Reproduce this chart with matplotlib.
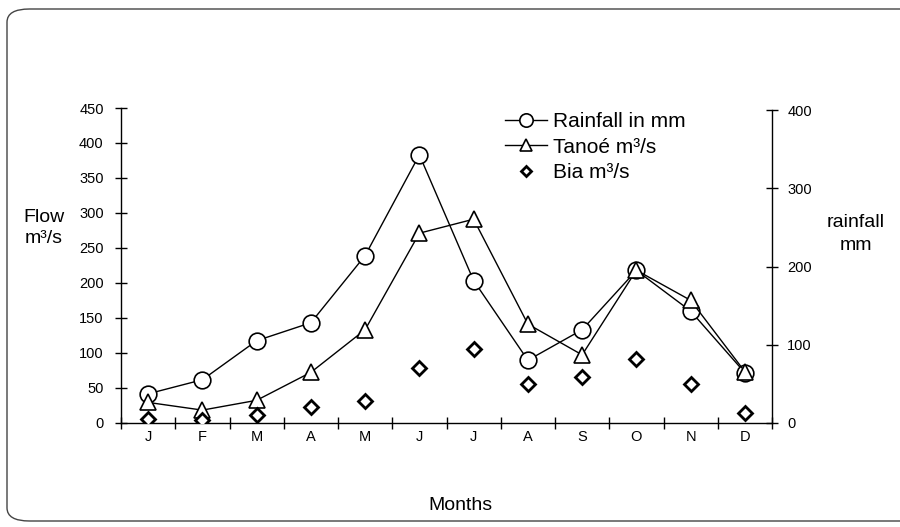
import matplotlib
matplotlib.use("Agg")
import matplotlib.pyplot as plt
from matplotlib.patches import FancyBboxPatch
import numpy as np

plt.rcParams['font.family'] = ['Liberation Sans', 'DejaVu Sans']

months = ['J', 'F', 'M', 'A', 'M', 'J', 'J', 'A', 'S', 'O', 'N', 'D']
rainfall = [37, 55, 105, 128, 214, 343, 182, 80, 119, 195, 143, 64]   # mm (right axis)
tanoe = [29, 18, 32, 72, 133, 271, 291, 141, 97, 218, 175, 73]        # m3/s (left axis)
bia = [6, 4, 11, 22, 31, 78, 105, 55, 66, 91, 56, 14]                 # m3/s (left axis)
flow_ticks = [0, 50, 100, 150, 200, 250, 300, 350, 400, 450]
rain_ticks = [0, 100, 200, 300, 400]

W, H = 900, 527
fig = plt.figure(figsize=(W / 100, H / 100), dpi=100)
fig.patch.set_facecolor('white')

# frame around the chart (right side runs off the page)
frame = FancyBboxPatch((7 / W, 6 / H), 1000 / W, (H - 9 - 6) / H,
                       boxstyle="round,pad=0,rounding_size=0.025",
                       transform=fig.transFigure, fill=False,
                       edgecolor='#444444', linewidth=1.0, clip_on=False)
fig.patches.append(frame)

ax = fig.add_axes([121 / W, 1 - 422.7 / H, (772 - 121) / W, (422.7 - 108) / H])
ax2 = ax.twinx()
ax2.set_zorder(ax.get_zorder() - 1)
ax.patch.set_visible(False)

x = np.arange(len(months))

l1, = ax2.plot(x, rainfall, color='black', lw=1.0, marker='o', ms=12,
               mfc='white', mec='black', mew=1.2, label='Rainfall in mm')
l2, = ax.plot(x, tanoe, color='black', lw=1.0, marker='^', ms=11,
              mfc='white', mec='black', mew=1.2, label='Tanoé m³/s', zorder=3)
l3, = ax.plot(x, bia, color='black', lw=0, marker='D', ms=7,
              mfc='white', mec='black', mew=2.0, label='Bia m³/s', zorder=4)

ax.set_xlim(-0.5, 11.5)
ax.set_ylim(0, 450)
ax2.set_ylim(0, 403)

ax.set_yticks(flow_ticks)
ax2.set_yticks(rain_ticks)
ax.set_xticks(np.arange(-0.5, 12, 1))
ax.set_xticklabels([])
ax.set_xticks(x, minor=True)
ax.set_xticklabels(months, minor=True)

for a in (ax, ax2):
    a.spines['top'].set_visible(False)
    for s in a.spines.values():
        s.set_linewidth(1.0)
ax.spines['right'].set_visible(False)
ax2.spines['left'].set_visible(False)
ax2.spines['bottom'].set_visible(False)
ax2.spines['left'].set_bounds(0, 400)
ax2.spines['right'].set_bounds(0, 400)

ax.tick_params(axis='y', direction='inout', length=8, width=1, pad=8.5, labelsize=10.5)
ax2.tick_params(axis='y', direction='inout', length=8, width=1, pad=7, labelsize=10.5)
ax.tick_params(axis='x', which='major', direction='inout', length=8, width=1)
ax.tick_params(axis='x', which='minor', length=0, pad=5, labelsize=10.5)

fig.text(44 / W, 1 - 228 / H, 'Flow\nm³/s', ha='center', va='center',
         fontsize=14, linespacing=1.35)
fig.text(856 / W, 1 - 234 / H, 'rainfall\nmm', ha='center', va='center',
         fontsize=14, linespacing=1.4)
fig.text(460 / W, 1 - 505 / H, 'Months', ha='center', va='center', fontsize=14)

leg = ax.legend(handles=[l1, l2, l3], loc='upper left',
                bbox_to_anchor=(505 / W, 1 - 112 / H), bbox_transform=fig.transFigure,
                frameon=False, fontsize=15, handlelength=2.0, handletextpad=0.3,
                labelspacing=0.32, borderpad=0, borderaxespad=0, numpoints=1,
                markerscale=0.8)

fig.savefig('out.png', dpi=100, facecolor='white')
